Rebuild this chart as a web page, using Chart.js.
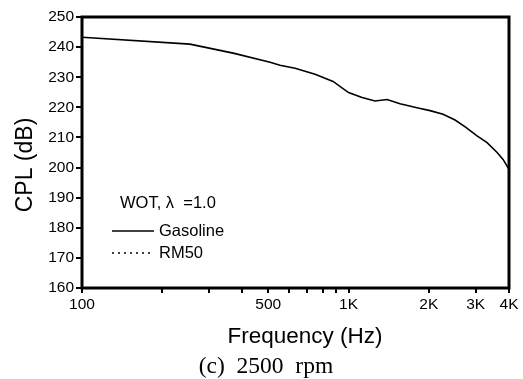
<!DOCTYPE html>
<html>
<head>
<meta charset="utf-8">
<script src="https://cdn.jsdelivr.net/npm/chart.js@4"></script>
<style>
  html, body { margin: 0; padding: 0; background: #fff; }
  #wrap { width: 523px; height: 379px; }
</style>
</head>
<body>
<div id="wrap"><canvas id="chart" width="523" height="379"></canvas></div>
<script>
// Data
const freqHz = [100, 254, 369, 508, 553, 630, 749, 875, 1000, 1124, 1257, 1395, 1560, 1823, 2023, 2263, 2510, 2740, 3035, 3310, 3610, 3800, 4000];
const gasolineCPL = [243.3, 241.0, 238.0, 235.0, 234.0, 233.0, 231.0, 228.6, 224.9, 223.3, 222.1, 222.6, 221.2, 219.8, 218.9, 217.7, 215.8, 213.5, 210.5, 208.3, 205.0, 202.7, 199.4];
const rm50CPL = []; // not visible in the figure (hidden under the gasoline curve)

const xTickValues = [100, 200, 300, 400, 500, 600, 700, 800, 900, 1000, 2000, 3000, 4000];
const xTickLabels = { 100: '100', 500: '500', 1000: '1K', 2000: '2K', 3000: '3K', 4000: '4K' };
const conditionText = 'WOT, \u03bb  =1.0';
const xTitle = 'Frequency (Hz)';
const yTitle = 'CPL (dB)';
const caption = '(c)  2500  rpm';

const sans = 'Arial, "Liberation Sans", sans-serif';
const serif = '"Times New Roman", "Liberation Serif", serif';

// frame, axis titles, caption and in-plot legend
const decorations = {
  id: 'decorations',
  afterDraw(chart) {
    const ctx = chart.ctx;
    const a = chart.chartArea;
    ctx.save();
    ctx.strokeStyle = '#000';
    ctx.lineWidth = 3;
    ctx.strokeRect(a.left, a.top, a.right - a.left, a.bottom - a.top);

    ctx.fillStyle = '#000';
    ctx.textAlign = 'center';
    ctx.textBaseline = 'middle';
    ctx.font = '22.5px ' + sans;
    ctx.fillText(xTitle, 305, 337);

    ctx.save();
    ctx.translate(26, 165);
    ctx.rotate(-Math.PI / 2);
    ctx.font = '23px ' + sans;
    ctx.fillText(yTitle, 0, 0);
    ctx.restore();

    ctx.font = '23.5px ' + serif;
    ctx.fillText(caption, 266, 367);

    // legend
    ctx.textAlign = 'left';
    ctx.font = '16.5px ' + sans;
    ctx.fillText(conditionText, 120, 203);
    const rows = [231, 253];
    chart.data.datasets.forEach((ds, i) => {
      const y = rows[i];
      ctx.beginPath();
      ctx.lineWidth = ds.borderWidth;
      ctx.setLineDash(ds.borderDash || []);
      ctx.moveTo(112, y);
      ctx.lineTo(154, y);
      ctx.stroke();
      ctx.setLineDash([]);
      ctx.fillText(ds.label, 159, y);
    });
    ctx.restore();
  }
};

new Chart(document.getElementById('chart'), {
  type: 'line',
  data: {
    datasets: [
      {
        label: 'Gasoline',
        data: freqHz.map((f, i) => ({ x: f, y: gasolineCPL[i] })),
        borderColor: '#000',
        borderWidth: 1.6,
        pointRadius: 0,
        tension: 0,
        fill: false
      },
      {
        label: 'RM50',
        data: rm50CPL,
        borderColor: '#000',
        borderWidth: 1.6,
        borderDash: [2, 4],
        pointRadius: 0,
        tension: 0,
        fill: false
      }
    ]
  },
  options: {
    responsive: false,
    animation: false,
    layout: { padding: { left: 0, top: 17, right: 14, bottom: 0 } },
    plugins: {
      legend: { display: false },
      tooltip: { enabled: false }
    },
    scales: {
      x: {
        type: 'logarithmic',
        min: 100,
        max: 4000,
        afterBuildTicks: scale => { scale.ticks = xTickValues.map(v => ({ value: v })); },
        afterFit: scale => { scale.height = 91; },
        border: { display: false },
        grid: { drawOnChartArea: false, drawTicks: true, tickLength: 5, color: '#000', lineWidth: 2 },
        ticks: {
          autoSkip: false,
          maxRotation: 0,
          padding: 2,
          color: '#000',
          font: { family: sans, size: 15.5 },
          callback: v => xTickLabels[v] || ''
        }
      },
      y: {
        min: 160,
        max: 250,
        afterFit: scale => { scale.width = 82; },
        border: { display: false },
        grid: { drawOnChartArea: false, drawTicks: true, tickLength: 6, color: '#000', lineWidth: 2 },
        ticks: {
          stepSize: 10,
          padding: 2,
          color: '#000',
          font: { family: sans, size: 15.5 }
        }
      }
    }
  },
  plugins: [decorations]
});
</script>
</body>
</html>
